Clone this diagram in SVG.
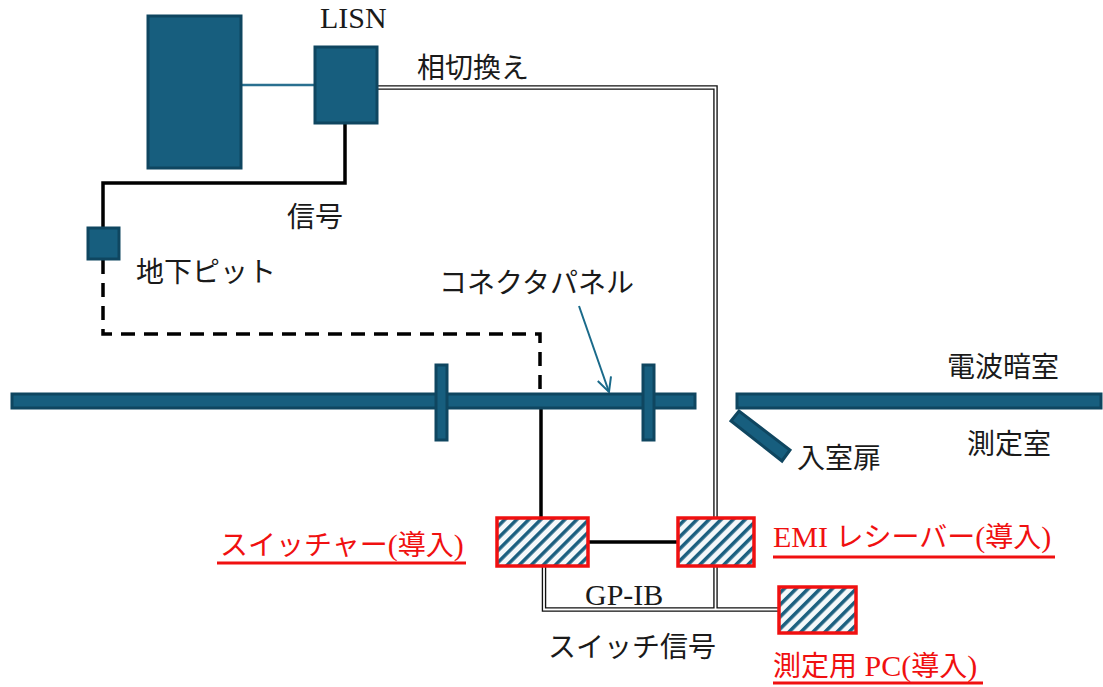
<svg xmlns="http://www.w3.org/2000/svg" width="1103" height="687" viewBox="0 0 1103 687">
<style>
.t{font-family:"Liberation Serif","Noto Sans CJK JP",serif;font-size:28px;fill:#1a1a1a}
.r{font-family:"Liberation Serif","Noto Sans CJK JP",serif;font-size:28px;fill:#f01010}
.l{font-size:30px}
.ul{stroke:#f01010;stroke-width:3}
.teal{fill:#175E7E;stroke:#0F4660;stroke-width:3}
.hb{fill:url(#hatch);stroke:#f01010;stroke-width:3.5}
.blk{fill:none;stroke:#000;stroke-width:3.5}
.dblo{fill:none;stroke:#111;stroke-width:4.5}
.dbli{fill:none;stroke:#fff;stroke-width:1.8}
</style>
<defs>
<pattern id="hatch" width="8.5" height="8.5" patternUnits="userSpaceOnUse" patternTransform="rotate(45)">
<rect width="8.5" height="8.5" fill="#f4f8fa"/>
<rect width="3.5" height="8.5" fill="#1B6080"/>
</pattern>
<marker id="vh" markerWidth="16" markerHeight="16" refX="15" refY="8" orient="auto" markerUnits="userSpaceOnUse">
<path d="M1,1 L15,8 L1,15" fill="none" stroke="#1A6A8A" stroke-width="2"/>
</marker>
</defs>
<rect width="1103" height="687" fill="#fff"/>

<g id="connectors">
<line x1="242" y1="85" x2="314" y2="85" stroke="#2A7090" stroke-width="2.5"/>
<path class="blk" d="M345,123 V183 H103 V227"/>
<path class="blk" d="M103,260 V334 H540 V398" stroke-dasharray="14 9"/>
<path class="blk" d="M541,400 V518"/>
<path class="blk" d="M588,542 H677"/>
<g id="double-lines">
<path class="dblo" d="M378,87.5 H715.5 V518"/>
<path class="dblo" d="M715.5,566 V609.5"/>
<path class="dblo" d="M544,566 V609.5 H778"/>
<path class="dbli" d="M378,87.5 H715.5 V518"/>
<path class="dbli" d="M715.5,566 V609.5"/>
<path class="dbli" d="M544,566 V609.5 H778"/>
</g>
<line x1="579" y1="306" x2="609" y2="392" stroke="#1A6A8A" stroke-width="2" marker-end="url(#vh)"/>
</g>

<g id="walls">
<rect class="teal" x="12" y="394" width="683" height="14"/>
<rect class="teal" x="737" y="394" width="364" height="14"/>
<rect class="teal" x="436" y="365" width="11" height="75"/>
<rect class="teal" x="643" y="365" width="11" height="75"/>
<polygon class="teal" points="731,421 739,411 790,450 782,461"/>
</g>

<g id="equipment"><rect class="teal" x="148" y="16" width="93" height="152"/></g>
<g id="lisn"><rect class="teal" x="315" y="47" width="62" height="76"/><text class="t l" x="320" y="28">LISN</text></g>
<g id="pit"><rect class="teal" x="88" y="228" width="31" height="31"/><text class="t" x="136" y="282">地下ピット</text></g>
<g id="switcher"><rect class="hb" x="497" y="518" width="91" height="48"/><text class="r" x="220" y="555">スイッチャー<tspan class="l">(</tspan>導入<tspan class="l">)</tspan></text><line class="ul" x1="217" y1="563" x2="466" y2="563"/></g>
<g id="emi"><rect class="hb" x="678" y="518" width="76" height="48"/><text class="r" x="773" y="547"><tspan class="l">EMI </tspan>レシーバー<tspan class="l">(</tspan>導入<tspan class="l">)</tspan></text><line class="ul" x1="773" y1="557" x2="1055" y2="557"/></g>
<g id="pc"><rect class="hb" x="779" y="587" width="77" height="46"/><text class="r" x="773" y="676">測定用<tspan class="l"> PC(</tspan>導入<tspan class="l">)</tspan></text><line class="ul" x1="773" y1="683" x2="983" y2="683"/></g>

<g id="labels">
<text class="t" x="417" y="78">相切換え</text>
<text class="t" x="287" y="227">信号</text>
<text class="t" x="439" y="293">コネクタパネル</text>
<text class="t" x="947" y="377">電波暗室</text>
<text class="t" x="967" y="454">測定室</text>
<text class="t" x="797" y="468">入室扉</text>
<text class="t l" x="585" y="605">GP-IB</text>
<text class="t" x="548" y="657">スイッチ信号</text>
</g>
</svg>
